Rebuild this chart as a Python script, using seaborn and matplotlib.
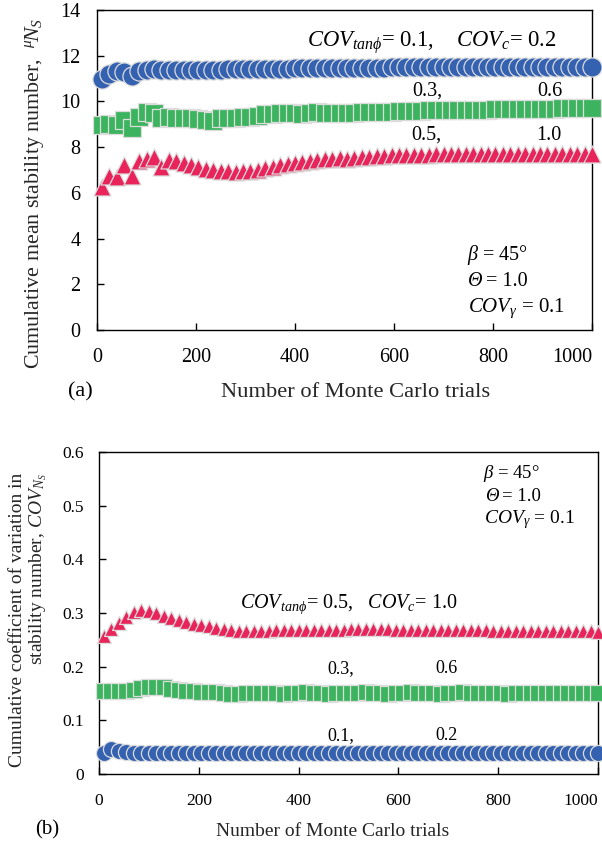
import matplotlib
matplotlib.use("Agg")
import matplotlib.pyplot as plt
import seaborn as sns
import pandas as pd

# ---------------- data ----------------
trials = [10, 25, 40, 55, 70, 85, 100, 115, 130, 145, 160, 175, 190, 205, 220, 235,
          250, 265, 280, 295, 310, 325, 340, 355, 370, 385, 400, 415, 430, 445, 460,
          475, 490, 505, 520, 535, 550, 565, 580, 595, 610, 625, 640, 655, 670, 685,
          700, 715, 730, 745, 760, 775, 790, 805, 820, 835, 850, 865, 880, 895, 910,
          925, 940, 955, 970, 985, 1000]

# (a) cumulative mean stability number
mean_low = [11.00, 11.22, 11.33, 11.30, 11.12, 11.33, 11.38, 11.40, 11.38, 11.37,
            11.37, 11.36, 11.37, 11.37, 11.38, 11.38, 11.39, 11.40, 11.41, 11.41,
            11.42, 11.42, 11.43, 11.43, 11.44, 11.44, 11.45, 11.45, 11.45, 11.46,
            11.46, 11.46, 11.47, 11.47, 11.47, 11.48, 11.48, 11.48, 11.48, 11.49,
            11.49, 11.49, 11.49, 11.49, 11.50, 11.50, 11.50, 11.50, 11.50, 11.50,
            11.50, 11.50, 11.50, 11.50, 11.50, 11.50, 11.50, 11.50, 11.50, 11.50,
            11.50, 11.50, 11.50, 11.50, 11.51, 11.51, 11.51]
mean_mid = [8.97, 9.01, 8.98, 9.19, 8.82, 9.33, 9.55, 9.48, 9.26, 9.33,
            9.26, 9.26, 9.26, 9.23, 9.19, 9.16, 9.26, 9.29, 9.29, 9.33,
            9.33, 9.36, 9.43, 9.45, 9.48, 9.48, 9.48, 9.45, 9.51, 9.55,
            9.51, 9.51, 9.51, 9.50, 9.49, 9.52, 9.53, 9.53, 9.54, 9.55,
            9.56, 9.57, 9.58, 9.60, 9.61, 9.61, 9.62, 9.62, 9.63, 9.62,
            9.63, 9.64, 9.64, 9.65, 9.66, 9.67, 9.67, 9.68, 9.69, 9.68,
            9.69, 9.69, 9.70, 9.70, 9.70, 9.71, 9.71]
mean_high = [6.25, 6.75, 6.70, 7.20, 6.75, 7.38, 7.50, 7.55, 7.15, 7.45,
             7.40, 7.32, 7.20, 7.12, 7.05, 6.98, 6.95, 6.95, 6.93, 6.95,
             6.97, 7.02, 7.08, 7.15, 7.20, 7.25, 7.30, 7.35, 7.40, 7.45,
             7.48, 7.50, 7.52, 7.50, 7.52, 7.55, 7.58, 7.60, 7.62, 7.64,
             7.65, 7.66, 7.66, 7.67, 7.67, 7.68, 7.68, 7.68, 7.69, 7.69,
             7.69, 7.69, 7.70, 7.70, 7.70, 7.70, 7.70, 7.70, 7.70, 7.70,
             7.70, 7.70, 7.70, 7.70, 7.70, 7.70, 7.70]

# (b) cumulative coefficient of variation
cov_low = [0.040, 0.046, 0.042, 0.041, 0.040, 0.040, 0.040, 0.040, 0.040, 0.040,
           0.040, 0.040, 0.040, 0.040, 0.040, 0.040, 0.040, 0.040, 0.040, 0.040,
           0.040, 0.040, 0.040, 0.040, 0.040, 0.040, 0.040, 0.040, 0.040, 0.040,
           0.040, 0.040, 0.040, 0.040, 0.040, 0.040, 0.040, 0.040, 0.040, 0.040,
           0.040, 0.040, 0.040, 0.040, 0.040, 0.040, 0.040, 0.040, 0.040, 0.040,
           0.040, 0.040, 0.040, 0.040, 0.040, 0.040, 0.040, 0.040, 0.040, 0.040,
           0.040, 0.040, 0.040, 0.040, 0.040, 0.040, 0.040]
cov_mid = [0.155, 0.155, 0.154, 0.154, 0.156, 0.160, 0.163, 0.163, 0.162, 0.158,
           0.156, 0.155, 0.154, 0.153, 0.153, 0.152, 0.151, 0.150, 0.150, 0.151,
           0.151, 0.151, 0.151, 0.151, 0.150, 0.151, 0.151, 0.152, 0.151, 0.151,
           0.150, 0.151, 0.151, 0.151, 0.151, 0.152, 0.151, 0.151, 0.150, 0.151,
           0.151, 0.152, 0.151, 0.151, 0.151, 0.150, 0.151, 0.151, 0.152, 0.151,
           0.151, 0.151, 0.151, 0.151, 0.150, 0.151, 0.151, 0.151, 0.151, 0.151,
           0.151, 0.151, 0.151, 0.151, 0.151, 0.151, 0.151]
cov_high = [0.257, 0.270, 0.281, 0.292, 0.301, 0.306, 0.304, 0.300, 0.295, 0.290,
            0.287, 0.283, 0.280, 0.277, 0.275, 0.272, 0.270, 0.269, 0.267, 0.266,
            0.266, 0.267, 0.267, 0.268, 0.268, 0.268, 0.268, 0.268, 0.268, 0.269,
            0.269, 0.269, 0.269, 0.270, 0.270, 0.270, 0.270, 0.270, 0.270, 0.269,
            0.269, 0.269, 0.269, 0.269, 0.269, 0.268, 0.268, 0.268, 0.268, 0.268,
            0.268, 0.268, 0.267, 0.267, 0.267, 0.267, 0.267, 0.267, 0.267, 0.266,
            0.266, 0.266, 0.266, 0.266, 0.266, 0.266, 0.265]

xticks = [0, 200, 400, 600, 800, 1000]
xtick_labels = ["0", "200", "400", "600", "800", "1000"]
yticks_a = [0, 2, 4, 6, 8, 10, 12, 14]
ytick_labels_a = ["0", "2", "4", "6", "8", "10", "12", "14"]
yticks_b = [0, 0.1, 0.2, 0.3, 0.4, 0.5, 0.6]
ytick_labels_b = ["0", "0.1", "0.2", "0.3", "0.4", "0.5", "0.6"]

BLUE = "#3461B0"
GREEN = "#3CB45F"
RED = "#E8245A"
EDGE = "#dcdcdc"

# ---------------- style ----------------
sns.set_theme(style="white")
plt.rcParams["font.family"] = ["Liberation Serif", "DejaVu Serif"]
plt.rcParams["mathtext.fontset"] = "custom"
plt.rcParams["mathtext.rm"] = "Liberation Serif"
plt.rcParams["mathtext.it"] = "Liberation Serif:italic"
plt.rcParams["mathtext.bf"] = "Liberation Serif:bold"

W, H = 602, 847
fig = plt.figure(figsize=(W / 100, H / 100), dpi=100)


def rect(l, t, r, b):
    return [l / W, 1 - b / H, (r - l) / W, (b - t) / H]


def ftext(x, y, s, size, **kw):
    fig.text(x / W, 1 - y / H, s, fontsize=size, ha=kw.pop("ha", "left"),
             va=kw.pop("va", "baseline"), color="black", **kw)


ax_a = fig.add_axes(rect(97, 10, 592, 330))
ax_b = fig.add_axes(rect(99, 452, 598, 774))

df_a = pd.DataFrame({"trials": trials, "low": mean_low, "mid": mean_mid, "high": mean_high})
df_b = pd.DataFrame({"trials": trials, "low": cov_low, "mid": cov_mid, "high": cov_high})

series = [("low", BLUE, "o"), ("mid", GREEN, "s"), ("high", RED, "^")]
sizes_a = {"low": 190, "mid": 150, "high": 150}
sizes_b = {"low": 135, "mid": 128, "high": 100}

for ax, df, sizes in [(ax_a, df_a, sizes_a), (ax_b, df_b, sizes_b)]:
    for name, col, mk in series:
        sns.scatterplot(data=df, x="trials", y=name, color=col, marker=mk,
                        s=sizes[name], edgecolor=EDGE, linewidth=0.9,
                        legend=False, ax=ax, zorder=3, clip_on=False)
    for sp in ax.spines.values():
        sp.set_visible(True)
        sp.set_color("black")
        sp.set_linewidth(1.0)
    ax.set_xlim(0, 1000)
    ax.set_xticks(xticks)

# panel (a)
ax_a.set_ylim(0, 14)
ax_a.set_yticks(yticks_a)
ax_a.set_yticklabels(ytick_labels_a)
ax_a.set_xticklabels(xtick_labels)
ax_a.get_xticklabels()[-1].set_ha("right")
ax_a.tick_params(axis="both", direction="in", length=5, width=1, labelsize=14.5,
                 colors="black", bottom=True, left=True, top=False, right=False)
ax_a.tick_params(axis="y", pad=12)
ax_a.tick_params(axis="x", pad=13)
ax_a.set_xlabel("Number of Monte Carlo trials", fontsize=16.2)
ax_a.set_ylabel(r"Cumulative mean stability number,  ${}^{\mu}\!N_S$", fontsize=15.8)
ax_a.xaxis.set_label_coords(0.523, -0.194)
ax_a.xaxis.label.set_va("center")
ax_a.yaxis.set_label_coords(-0.127, 0.428)
ax_a.yaxis.label.set_va("center")

# panel (b)
ax_b.set_ylim(0, 0.6)
ax_b.set_yticks(yticks_b)
ax_b.set_yticklabels(ytick_labels_b)
ax_b.set_xticklabels(xtick_labels)
ax_b.get_xticklabels()[-1].set_ha("right")
ax_b.tick_params(axis="both", direction="in", length=5, width=1, labelsize=12.5,
                 colors="black", bottom=True, left=True, top=False, right=False)
ax_b.tick_params(axis="y", pad=11)
ax_b.tick_params(axis="x", pad=14)
ax_b.set_xlabel("Number of Monte Carlo trials", fontsize=14)
ax_b.set_ylabel("Cumulative coefficient of variation in\nstability number, $COV_{N_S}$",
                fontsize=14, multialignment="right", linespacing=1.05)
ax_b.xaxis.set_label_coords(0.469, -0.180)
ax_b.xaxis.label.set_va("center")
ax_b.yaxis.set_label_coords(-0.140, 0.478)
ax_b.yaxis.label.set_va("center")

# panel tags
ftext(80, 392, "(a)", 16, ha="center", va="center")
ftext(47, 830, "(b)", 15, ha="center", va="center")

# annotations panel (a)
ftext(307, 47, r"$COV_{tan\phi}$= 0.1,    $COV_c$= 0.2", 16.3)
ftext(412, 96, "0.3,", 14.5)
ftext(537, 96, "0.6", 14.5)
ftext(411, 140, "0.5,", 14.5)
ftext(536, 140, "1.0", 14.5)
ftext(467, 260, r"$\beta$ = 45°", 14.5)
ftext(468, 286, "Θ", 14.5, style="italic")
ftext(486, 286, "= 1.0", 14.5)
ftext(468, 312, r"$COV_\gamma$ = 0.1", 15)

# annotations panel (b)
ftext(240, 608, r"$COV_{tan\phi}$= 0.5,   $COV_c$= 1.0", 14.5)
ftext(327, 673, "0.3,", 13)
ftext(435, 673, "0.6", 13)
ftext(327, 740, "0.1,", 13)
ftext(435, 740, "0.2", 13)
ftext(483, 478, r"$\beta$ = 45°", 13.5)
ftext(485, 501, "Θ", 13.5, style="italic")
ftext(502, 501, "= 1.0", 13.5)
ftext(484, 523, r"$COV_\gamma$ = 0.1", 14)

fig.savefig("out.png", dpi=100)
